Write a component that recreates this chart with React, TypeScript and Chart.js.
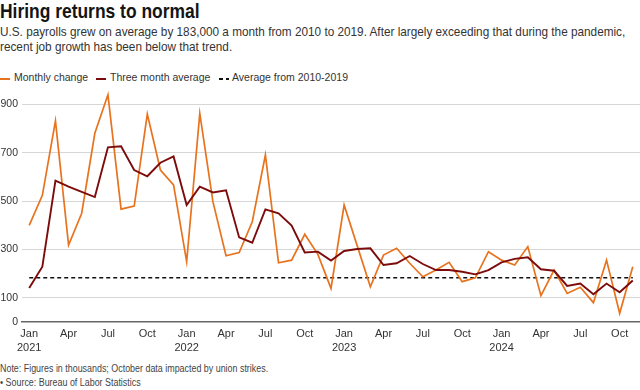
import React, { useEffect, useRef } from 'react';
import { Chart, registerables } from 'chart.js';

Chart.register(...registerables);

// Monthly payroll change, Jan 2021 - Nov 2024 (thousands)
const MONTHLY_CHANGE = [
  400, 524, 832, 318, 450, 781, 940, 467, 480, 860, 629, 567,
  250, 863, 498, 274, 287, 415, 691, 245, 256, 363, 280, 139,
  484, 315, 146, 277, 305, 243, 187, 215, 247, 167, 183, 291,
  256, 236, 312, 109, 215, 118, 144, 80, 256, 36, 229,
];
const THREE_MONTH_AVG = [
  141, 229, 585, 560, 538, 517, 723, 727, 629, 603, 659, 685,
  484, 560, 536, 545, 350, 328, 466, 450, 399, 288, 291, 254,
  294, 302, 305, 236, 243, 273, 240, 215, 215, 208, 197, 215,
  247, 261, 268, 218, 212, 149, 159, 115, 159, 123, 172,
];
const AVERAGE_2010_2019 = 183;

const TICK_MONTHS = ['Jan', 'Apr', 'Jul', 'Oct'];
const TICK_YEARS = ['2021', '2022', '2023', '2024'];
const X_TICK_INDEX = [0, 3, 6, 9, 12, 15, 18, 21, 24, 27, 30, 33, 36, 39, 42, 45];
const Y_TICKS = [0, 100, 300, 500, 700, 900];

const FONT = "'Liberation Sans', Arial, Helvetica, sans-serif";
const ORANGE = '#e8731e';
const DARK_RED = '#7c0b0b';

function xLabel(v: number): string | string[] {
  const m = TICK_MONTHS[Math.round(v / 3) % 4];
  if (v % 12 === 0) return [m, TICK_YEARS[v / 12]];
  return m;
}

export default function App() {
  const ref = useRef<HTMLCanvasElement>(null);

  useEffect(() => {
    const n = MONTHLY_CHANGE.length;
    const chart = new Chart(ref.current!, {
      type: 'line',
      data: {
        datasets: [
          {
            label: 'Three month average',
            data: THREE_MONTH_AVG.map((y, i) => ({ x: i, y })),
            borderColor: DARK_RED,
            borderWidth: 1.9,
            pointRadius: 0,
            tension: 0,
            fill: false,
          },
          {
            label: 'Monthly change',
            data: MONTHLY_CHANGE.map((y, i) => ({ x: i, y })),
            borderColor: ORANGE,
            borderWidth: 1.7,
            pointRadius: 0,
            tension: 0,
            fill: false,
          },
          {
            label: 'Average from 2010-2019',
            data: [
              { x: 0, y: AVERAGE_2010_2019 },
              { x: n - 1, y: AVERAGE_2010_2019 },
            ],
            borderColor: '#111',
            borderWidth: 1.6,
            borderDash: [4, 3],
            pointRadius: 0,
            fill: false,
          },
        ],
      },
      options: {
        responsive: false,
        animation: false,
        layout: { padding: 0 },
        plugins: { legend: { display: false }, tooltip: { enabled: false } },
        scales: {
          x: {
            type: 'linear',
            min: -0.55,
            max: n - 1 + 0.55,
            grid: { display: false, drawTicks: false },
            border: { display: true, color: '#666', width: 1.5 },
            afterBuildTicks: (s: any) => {
              s.ticks = X_TICK_INDEX.map((v) => ({ value: v }));
            },
            afterFit: (s: any) => {
              s.height = 36;
              s.paddingLeft = 0;
              s.paddingRight = 0;
            },
            ticks: {
              autoSkip: false,
              maxRotation: 0,
              minRotation: 0,
              padding: 4,
              color: '#333',
              font: { family: FONT, size: 11, lineHeight: 1.36 },
              callback: (v: any) => xLabel(Number(v)),
            },
          },
          y: {
            min: 0,
            max: 960,
            border: { display: false },
            grid: {
              drawTicks: false,
              lineWidth: 1,
              color: (c: any) => (c.tick && c.tick.value === 0 ? 'rgba(0,0,0,0)' : '#d6d6d6'),
            },
            afterBuildTicks: (s: any) => {
              s.ticks = Y_TICKS.map((v) => ({ value: v }));
            },
            afterFit: (s: any) => {
              s.width = 22;
              s.paddingTop = 0;
              s.paddingBottom = 0;
            },
            ticks: {
              padding: 4,
              color: '#333',
              font: { family: FONT, size: 10.5 },
            },
          },
        },
      },
    });
    return () => chart.destroy();
  }, []);

  const legendText: React.CSSProperties = {
    position: 'absolute',
    top: 70,
    fontSize: 10.5,
    lineHeight: '14px',
    color: '#333',
    whiteSpace: 'nowrap',
  };
  const swatch = (left: number, bg: string): React.CSSProperties => ({
    position: 'absolute',
    left,
    top: 78,
    width: 10,
    height: 2,
    background: bg,
  });

  return (
    <div
      style={{
        position: 'absolute',
        left: 0,
        top: 0,
        width: 640,
        height: 390,
        background: '#fff',
        fontFamily: FONT,
        overflow: 'hidden',
      }}
    >
      <div
        style={{
          position: 'absolute',
          left: 0,
          top: 0,
          fontSize: 21,
          lineHeight: '21px',
          fontWeight: 'bold',
          color: '#141414',
          whiteSpace: 'nowrap',
          transform: 'scaleX(0.83)',
          transformOrigin: 'left top',
        }}
      >
        Hiring returns to normal
      </div>
      <div
        style={{
          position: 'absolute',
          left: 0,
          top: 24,
          fontSize: 13,
          lineHeight: '15px',
          color: '#333',
          whiteSpace: 'nowrap',
          transform: 'scaleX(0.905)',
          transformOrigin: 'left top',
        }}
      >
        <div>U.S. payrolls grew on average by 183,000 a month from 2010 to 2019. After largely exceeding that during the pandemic,</div>
        <div>recent job growth has been below that trend.</div>
      </div>

      <div style={swatch(0, ORANGE)} />
      <div style={{ ...legendText, left: 14 }}>Monthly change</div>
      <div style={swatch(96, DARK_RED)} />
      <div style={{ ...legendText, left: 110 }}>Three month average</div>
      <div
        style={{
          ...swatch(219, 'transparent'),
          background: 'repeating-linear-gradient(90deg, #111 0px, #111 4px, transparent 4px, transparent 7px)',
        }}
      />
      <div style={{ ...legendText, left: 232 }}>Average from 2010-2019</div>

      <div style={{ position: 'absolute', left: 0, top: 90, width: 640, height: 268 }}>
        <canvas ref={ref} width={640} height={268} style={{ display: 'block' }} />
      </div>

      <div
        style={{
          position: 'absolute',
          left: 0,
          top: 362,
          fontSize: 10,
          lineHeight: '14px',
          color: '#444',
          whiteSpace: 'nowrap',
          transform: 'scaleX(0.89)',
          transformOrigin: 'left top',
        }}
      >
        <div>Note: Figures in thousands; October data impacted by union strikes.</div>
        <div>• Source: Bureau of Labor Statistics</div>
      </div>
    </div>
  );
}
